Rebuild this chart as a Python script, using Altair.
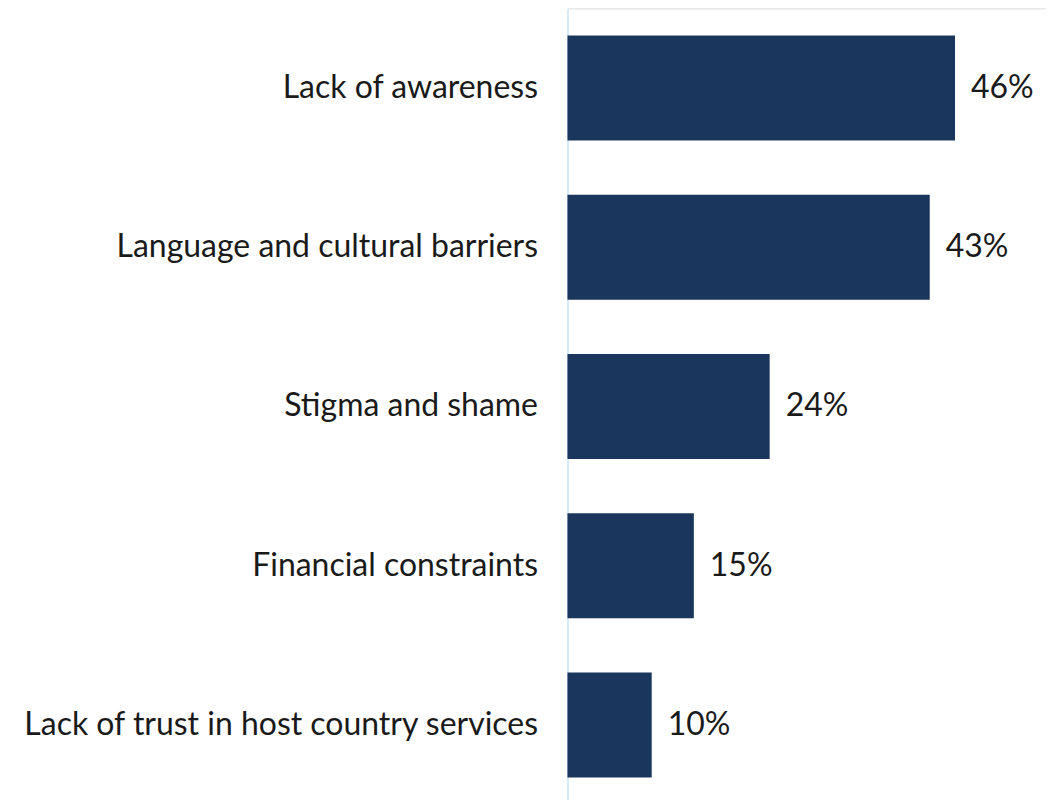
import altair as alt
import pandas as pd

categories = [
    "Lack of awareness",
    "Language and cultural barriers",
    "Stigma and shame",
    "Financial constraints",
    "Lack of trust in host country services",
]
values = [46, 43, 24, 15, 10]
labels = ["46%", "43%", "24%", "15%", "10%"]

df = pd.DataFrame({"category": categories, "value": values, "label": labels})

y = alt.Y(
    "category:N",
    sort=categories,
    title=None,
    scale=alt.Scale(paddingInner=0.34, paddingOuter=0.17),
    axis=alt.Axis(
        labelFont="Lato",
        labelFontSize=32,
        labelColor="#1a1a1a",
        labelPadding=30,
        labelLimit=800,
        ticks=False,
        domainColor="#d6eaf8",
        domainWidth=2,
        grid=False,
    ),
)
x = alt.X(
    "value:Q",
    scale=alt.Scale(domain=[0, 56.8], nice=False),
    axis=None,
)

bars = alt.Chart(df).mark_bar(color="#1b365d").encode(x=x, y=y)
text = alt.Chart(df).mark_text(
    align="left", baseline="middle", dx=16, font="Lato", fontSize=32, color="#1a1a1a"
).encode(x=x, y=y, text="label:N")

chart = (
    (bars + text)
    .properties(width=479, height=797)
    .configure_view(stroke="transparent", strokeWidth=0)
    .configure(padding={"left": 14, "top": 0, "right": 0, "bottom": 0})
)

chart.save("out.html", embed_options={"renderer": "svg", "actions": False})
